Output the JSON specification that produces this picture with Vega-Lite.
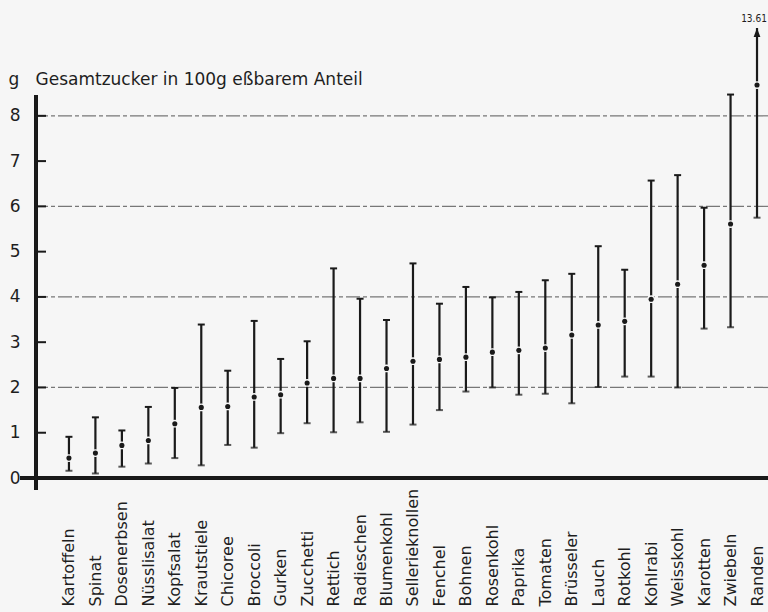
{
  "$schema": "https://vega.github.io/schema/vega-lite/v6.json",
  "width": 732,
  "height": 462,
  "autosize": {"type": "none"},
  "padding": {"left": 36, "top": 28, "right": 0, "bottom": 122},
  "background": "#f6f6f6",
  "config": {"view": {"stroke": null}, "font": "DejaVu Sans"},
  "data": {
    "values": [
      {"veg": "Kartoffeln", "min": 0.16, "mean": 0.44, "max": 0.91},
      {"veg": "Spinat", "min": 0.10, "mean": 0.55, "max": 1.34},
      {"veg": "Dosenerbsen", "min": 0.25, "mean": 0.72, "max": 1.05},
      {"veg": "Nüsslisalat", "min": 0.32, "mean": 0.83, "max": 1.57},
      {"veg": "Kopfsalat", "min": 0.44, "mean": 1.20, "max": 1.99},
      {"veg": "Krautstiele", "min": 0.28, "mean": 1.56, "max": 3.39},
      {"veg": "Chicoree", "min": 0.73, "mean": 1.58, "max": 2.37},
      {"veg": "Broccoli", "min": 0.67, "mean": 1.79, "max": 3.47},
      {"veg": "Gurken", "min": 0.99, "mean": 1.84, "max": 2.63},
      {"veg": "Zucchetti", "min": 1.21, "mean": 2.10, "max": 3.02},
      {"veg": "Rettich", "min": 1.01, "mean": 2.20, "max": 4.63},
      {"veg": "Radieschen", "min": 1.23, "mean": 2.20, "max": 3.96},
      {"veg": "Blumenkohl", "min": 1.02, "mean": 2.42, "max": 3.49},
      {"veg": "Sellerieknollen", "min": 1.18, "mean": 2.58, "max": 4.74},
      {"veg": "Fenchel", "min": 1.50, "mean": 2.62, "max": 3.85},
      {"veg": "Bohnen", "min": 1.91, "mean": 2.67, "max": 4.22},
      {"veg": "Rosenkohl", "min": 2.00, "mean": 2.78, "max": 3.99},
      {"veg": "Paprika", "min": 1.84, "mean": 2.82, "max": 4.11},
      {"veg": "Tomaten", "min": 1.86, "mean": 2.87, "max": 4.37},
      {"veg": "Brüsseler", "min": 1.65, "mean": 3.16, "max": 4.51},
      {"veg": "Lauch", "min": 2.01, "mean": 3.38, "max": 5.12},
      {"veg": "Rotkohl", "min": 2.24, "mean": 3.46, "max": 4.60},
      {"veg": "Kohlrabi", "min": 2.24, "mean": 3.95, "max": 6.57},
      {"veg": "Weisskohl", "min": 2.00, "mean": 4.28, "max": 6.69},
      {"veg": "Karotten", "min": 3.30, "mean": 4.70, "max": 5.97},
      {"veg": "Zwiebeln", "min": 3.33, "mean": 5.61, "max": 8.47},
      {"veg": "Randen", "min": 5.75, "mean": 8.68, "max": 13.61}
    ]
  },
  "layer": [
    {
      "data": {"values": [{"g": 2}, {"g": 4}, {"g": 6}, {"g": 8}]},
      "mark": {"type": "rule", "strokeWidth": 1.2, "color": "#777777", "strokeDash": [14, 3, 4, 3]},
      "encoding": {
        "y": {"field": "g", "type": "quantitative"}
      }
    },
    {
      "mark": {"type": "rule", "strokeWidth": 2.2, "color": "#1a1a1a"},
      "encoding": {
        "x": {
          "field": "veg", "type": "nominal", "sort": null,
          "scale": {"type": "point", "padding": 0.83, "align": 0.75},
          "axis": {
            "title": null, "orient": "bottom", "domain": false, "ticks": false, "grid": false,
            "labelAngle": -90, "labelAlign": "left", "labelBaseline": "middle",
            "labelPadding": 116, "labelFont": "DejaVu Sans", "labelFontSize": 16,
            "labelColor": "#1e1e1e", "labelOverlap": false
          }
        },
        "y": {
          "field": "min", "type": "quantitative",
          "scale": {"domain": [-0.265, 9.94], "nice": false, "zero": false, "clamp": true},
          "axis": {
            "title": "g\u00a0\u00a0\u00a0Gesamtzucker in 100g eßbarem Anteil",
            "titleAngle": 0, "titleAlign": "left", "titleBaseline": "alphabetic",
            "titleX": -28, "titleY": 56, "titleFont": "DejaVu Sans", "titleFontSize": 17,
            "titleFontWeight": "normal", "titleColor": "#1e1e1e",
            "values": [0, 1, 2, 3, 4, 5, 6, 7, 8],
            "domain": false, "ticks": false,
            "labelPadding": 16, "labelFont": "DejaVu Sans", "labelFontSize": 17, "labelColor": "#1e1e1e",
            "grid": false
          }
        },
        "y2": {"field": "max"}
      }
    },
    {
      "mark": {"type": "tick", "size": 7, "thickness": 2, "color": "#1a1a1a"},
      "encoding": {
        "x": {"field": "veg", "type": "nominal", "sort": null},
        "y": {"field": "min", "type": "quantitative"}
      }
    },
    {
      "mark": {"type": "tick", "size": 7, "thickness": 2, "color": "#1a1a1a"},
      "encoding": {
        "x": {"field": "veg", "type": "nominal", "sort": null},
        "y": {"field": "max", "type": "quantitative"},
        "opacity": {"condition": {"test": "datum.max > 9.94", "value": 0}, "value": 1}
      }
    },
    {
      "mark": {"type": "point", "filled": true, "shape": "circle", "size": 60, "color": "#f6f6f6", "opacity": 1},
      "encoding": {
        "x": {"field": "veg", "type": "nominal", "sort": null},
        "y": {"field": "mean", "type": "quantitative"}
      }
    },
    {
      "mark": {"type": "point", "filled": true, "shape": "circle", "size": 26, "color": "#1a1a1a", "opacity": 1},
      "encoding": {
        "x": {"field": "veg", "type": "nominal", "sort": null},
        "y": {"field": "mean", "type": "quantitative"}
      }
    },
    {
      "mark": {"type": "point", "filled": true, "shape": "M0,0L0.75,2L-0.75,2Z", "size": 81, "color": "#1a1a1a"},
      "encoding": {
        "x": {"field": "veg", "type": "nominal", "sort": null},
        "y": {"field": "max", "type": "quantitative"},
        "opacity": {"condition": {"test": "datum.max > 9.94", "value": 1}, "value": 0}
      }
    },
    {
      "mark": {"type": "text", "baseline": "bottom", "align": "center", "dy": -4, "dx": -3, "fontSize": 10, "font": "Liberation Sans Narrow, DejaVu Sans Condensed, sans-serif", "color": "#1e1e1e"},
      "encoding": {
        "x": {"field": "veg", "type": "nominal", "sort": null},
        "y": {"field": "max", "type": "quantitative"},
        "text": {"field": "max", "type": "quantitative", "format": ".2f"},
        "opacity": {"condition": {"test": "datum.max > 9.94", "value": 1}, "value": 0}
      }
    },
    {
      "mark": {"type": "rule", "strokeWidth": 2.6, "color": "#1a1a1a"},
      "encoding": {
        "y": {"datum": 0, "type": "quantitative"}
      }
    },
    {
      "mark": {"type": "rule", "strokeWidth": 2.6, "color": "#1a1a1a"},
      "encoding": {
        "x": {"value": -16},
        "x2": {"value": 0},
        "y": {"datum": 0, "type": "quantitative"}
      }
    },
    {
      "data": {"values": [{"t": 1}, {"t": 2}, {"t": 3}, {"t": 4}, {"t": 5}, {"t": 6}, {"t": 7}, {"t": 8}]},
      "mark": {"type": "rule", "strokeWidth": 2, "color": "#1a1a1a"},
      "encoding": {
        "x": {"value": 0},
        "x2": {"value": 10},
        "y": {"field": "t", "type": "quantitative"}
      }
    },
    {
      "mark": {"type": "rule", "strokeWidth": 2.6, "color": "#1a1a1a"},
      "encoding": {
        "x": {"value": 0},
        "y": {"datum": -0.265, "type": "quantitative"},
        "y2": {"datum": 8.46}
      }
    }
  ]
}
